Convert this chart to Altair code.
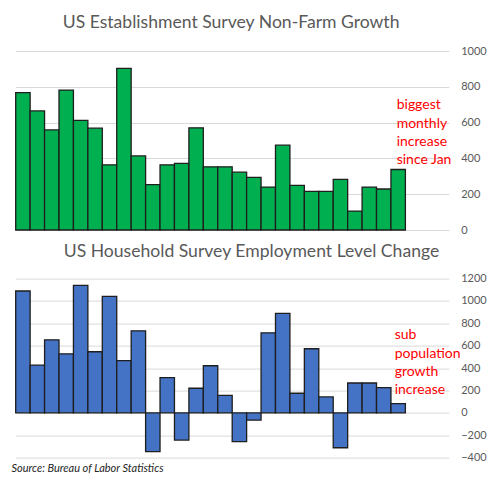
import altair as alt
import pandas as pd

# ---- data ----
months = list(range(27))
slots = list(range(30))
establishment = [768, 665, 559, 782, 613, 569, 364, 903, 414, 253, 364, 372, 571, 353,
                 353, 323, 294, 240, 474, 249, 216, 216, 283, 106, 240, 229, 338]
household = [1089, 427, 653, 528, 1139, 546, 1041, 466, 733, -347, 315, -243, 220, 421,
             157, -258, -65, 715, 890, 175, 573, 142, -312, 267, 267, 225, 83]
top_ticks = [0, 200, 400, 600, 800, 1000]
bottom_ticks = [-400, -200, 0, 200, 400, 600, 800, 1000, 1200]

top_title = "US Establishment Survey Non-Farm Growth"
bottom_title = "US Household Survey Employment Level Change"
top_note = "biggest\nmonthly\nincrease\nsince Jan"
bottom_note = "sub\npopulation\ngrowth\nincrease"
source = "Source: Bureau of Labor Statistics"

FONT = "Lato"
W, H = 433, 179

df_top = pd.DataFrame({"m": months, "v": establishment})
df_bot = pd.DataFrame({"m": months, "v": household})
one = pd.DataFrame({"a": [0]})


def panel(df, color, ticks, title, title_dx, title_dy, note, note_dx, note_dy, extra=None):
    bars = alt.Chart(df).mark_bar(
        color=color, stroke="#1e1e1e", strokeWidth=1.3
    ).encode(
        x=alt.X("m:O", scale=alt.Scale(domain=slots, paddingInner=0, paddingOuter=0), axis=None),
        y=alt.Y("v:Q", scale=alt.Scale(domain=[ticks[0], ticks[-1]], nice=False),
                axis=alt.Axis(orient="right", values=ticks, title=None, domain=False,
                              ticks=False, grid=True, gridColor="#d9d9d9", gridWidth=1,
                              format="d",
                              labelFont=FONT, labelFontSize=11, labelColor="#595959",
                              labelPadding=12, labelAlign="left")),
    )
    t = alt.Chart(one).mark_text(
        text=title, font=FONT, fontSize=17.6, color="#595959", align="left",
        baseline="alphabetic"
    ).encode(x=alt.value(title_dx), y=alt.value(title_dy))
    n = alt.Chart(one).mark_text(
        text=note, font=FONT, fontSize=14, color="#ff0000", align="left",
        baseline="alphabetic", lineBreak="\n", lineHeight=18.3
    ).encode(x=alt.value(note_dx), y=alt.value(note_dy))
    layers = [bars, t, n]
    if extra is not None:
        layers.append(extra)
    return alt.layer(*layers).properties(width=W, height=H)


src = alt.Chart(one).mark_text(
    text=source, font=FONT, fontSize=11, fontStyle="italic", color="#262626",
    align="left", baseline="alphabetic"
).encode(x=alt.value(-4.3), y=alt.value(193.7))

top = panel(df_top, "#00b050", top_ticks, top_title, 47, -22.7, top_note, 381, 58.3)
bot = panel(df_bot, "#4472c4", bottom_ticks, bottom_title, 48, -21.3, bottom_note, 379, 60.7, src)

chart = alt.vconcat(top, bot, spacing=48.6, bounds="flush").properties(
    padding={"left": 2.7, "top": 6.0, "right": 0, "bottom": 0}
).configure_view(stroke=None)

chart.save("out.html", embed_options={"renderer": "svg", "actions": False})
